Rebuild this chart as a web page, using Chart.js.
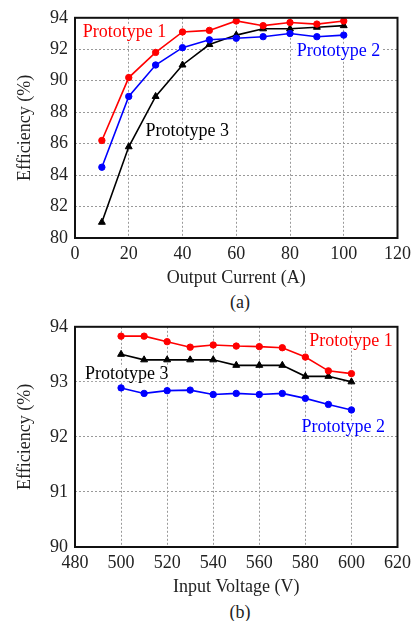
<!DOCTYPE html>
<html>
<head>
<meta charset="utf-8">
<script src="https://cdn.jsdelivr.net/npm/chart.js@4.4.0/dist/chart.umd.min.js"></script>
<style>
body { margin:0; background:#fff; width:416px; height:621px; position:relative; overflow:hidden; font-family:"Liberation Serif", serif; }
.box { position:absolute; left:0; width:416px; height:290px; }
.cap { position:absolute; left:0; width:480px; text-align:center; font-size:18px; line-height:22px; color:#222; }
</style>
</head>
<body>
<canvas id="chartA" class="box" width="416" height="290" style="top:0"></canvas>
<div class="cap" style="top:291px">(a)</div>
<canvas id="chartB" class="box" width="416" height="290" style="top:309px"></canvas>
<div class="cap" style="top:601px">(b)</div>
<script>
// (a) efficiency vs output current
var currentA = [10, 20, 30, 40, 50, 60, 70, 80, 90, 100];
var proto1A = [86.2, 90.2, 91.8, 93.1, 93.2, 93.8, 93.5, 93.7, 93.6, 93.8];
var proto2A = [84.5, 89.0, 91.0, 92.1, 92.6, 92.7, 92.8, 93.0, 92.8, 92.9];
var proto3A = [81.0, 85.8, 89.0, 91.0, 92.3, 92.9, 93.3, 93.3, 93.4, 93.5];

// (b) efficiency vs input voltage
var voltageB = [500, 510, 520, 530, 540, 550, 560, 570, 580, 590, 600];
var proto1B = [93.83, 93.83, 93.73, 93.63, 93.67, 93.65, 93.64, 93.62, 93.45, 93.2, 93.15];
var proto2B = [92.89, 92.79, 92.84, 92.85, 92.77, 92.79, 92.77, 92.79, 92.7, 92.59, 92.49];
var proto3B = [93.5, 93.4, 93.4, 93.4, 93.4, 93.3, 93.3, 93.3, 93.1, 93.1, 93.0];

var notesA = [
    { text: 'Prototype 1', x: 2.9, y: 93.05, color: '#ff0000' },
    { text: 'Prototype 2', x: 82.5, y: 91.9, color: '#0000ff' },
    { text: 'Prototype 3', x: 26.2, y: 86.8, color: '#000000' }
];
var notesB = [
    { text: 'Prototype 1', x: 581.7, y: 93.74, color: '#ff0000' },
    { text: 'Prototype 2', x: 578.3, y: 92.17, color: '#0000ff' },
    { text: 'Prototype 3', x: 484.3, y: 93.14, color: '#000000' }
];

var serif = '"Liberation Serif", "Times New Roman", serif';

function points(xs, ys) {
    return xs.map(function (x, i) { return { x: x, y: ys[i] }; });
}

// frame round the plot area and the series names
var framePlugin = {
    id: 'frame',
    afterDatasetsDraw: function (chart, args, opts) {
        var ctx = chart.ctx, a = chart.chartArea;
        ctx.save();
        ctx.font = '18px ' + serif;
        ctx.textBaseline = 'middle';
        ctx.textAlign = 'left';
        (opts.notes || []).forEach(function (n) {
            var px = chart.scales.x.getPixelForValue(n.x);
            var py = chart.scales.y.getPixelForValue(n.y);
            var w = ctx.measureText(n.text).width;
            ctx.fillStyle = '#fff';
            ctx.fillRect(px - 1, py - 7, w + 2, 14);
            ctx.fillStyle = n.color;
            ctx.fillText(n.text, px, py);
        });
        ctx.strokeStyle = '#111';
        ctx.lineWidth = 2;
        ctx.strokeRect(a.left, a.top, a.right - a.left, a.bottom - a.top);
        ctx.restore();
    }
};

function series(label, xs, ys, color, style) {
    return {
        label: label,
        data: points(xs, ys),
        borderColor: color,
        backgroundColor: color,
        borderWidth: 1.6,
        pointStyle: style,
        pointRadius: style === 'triangle' ? 4 : 3.2,
        pointBorderWidth: 1,
        tension: 0
    };
}

function makeChart(id, xs, p1, p2, p3, xr, yr, yStep, xTitle, notes, yWidth, topPad, rightPad) {
    return new Chart(document.getElementById(id), {
        type: 'line',
        data: {
            datasets: [
                series('Prototype 1', xs, p1, '#ff0000', 'circle'),
                series('Prototype 2', xs, p2, '#0000ff', 'circle'),
                series('Prototype 3', xs, p3, '#000000', 'triangle')
            ]
        },
        options: {
            responsive: false,
            animation: false,
            devicePixelRatio: 1,
            layout: { padding: { top: topPad, right: rightPad, left: 0, bottom: 0 } },
            plugins: {
                legend: { display: false },
                tooltip: { enabled: false },
                frame: { notes: notes }
            },
            scales: {
                x: {
                    type: 'linear',
                    min: xr[0], max: xr[1],
                    ticks: { stepSize: 20, color: '#222', padding: 5, font: { family: serif, size: 18 } },
                    grid: { color: '#999', lineWidth: 1, drawTicks: false },
                    border: { display: false, dash: [2, 2] },
                    title: { display: true, text: xTitle, color: '#222', padding: { top: 0, bottom: 1 }, font: { family: serif, size: 18 } },
                    afterFit: function (s) { s.height = 52; }
                },
                y: {
                    min: yr[0], max: yr[1],
                    ticks: { stepSize: yStep, color: '#222', padding: 7, font: { family: serif, size: 18 } },
                    grid: { color: '#999', lineWidth: 1, drawTicks: false },
                    border: { display: false, dash: [2, 2] },
                    title: { display: true, text: 'Efficiency (%)', color: '#222', padding: { top: 14, bottom: 0 }, font: { family: serif, size: 18 } },
                    afterFit: function (s) { s.width = yWidth; }
                }
            }
        },
        plugins: [framePlugin]
    });
}

makeChart('chartA', currentA, proto1A, proto2A, proto3A, [0, 120], [80, 94], 2,
    'Output Current (A)', notesA, 75, 5, 4);
makeChart('chartB', voltageB, proto1B, proto2B, proto3B, [480, 620], [90, 94], 1,
    'Input Voltage (V)', notesB, 75, 3, 3);
</script>
</body>
</html>
